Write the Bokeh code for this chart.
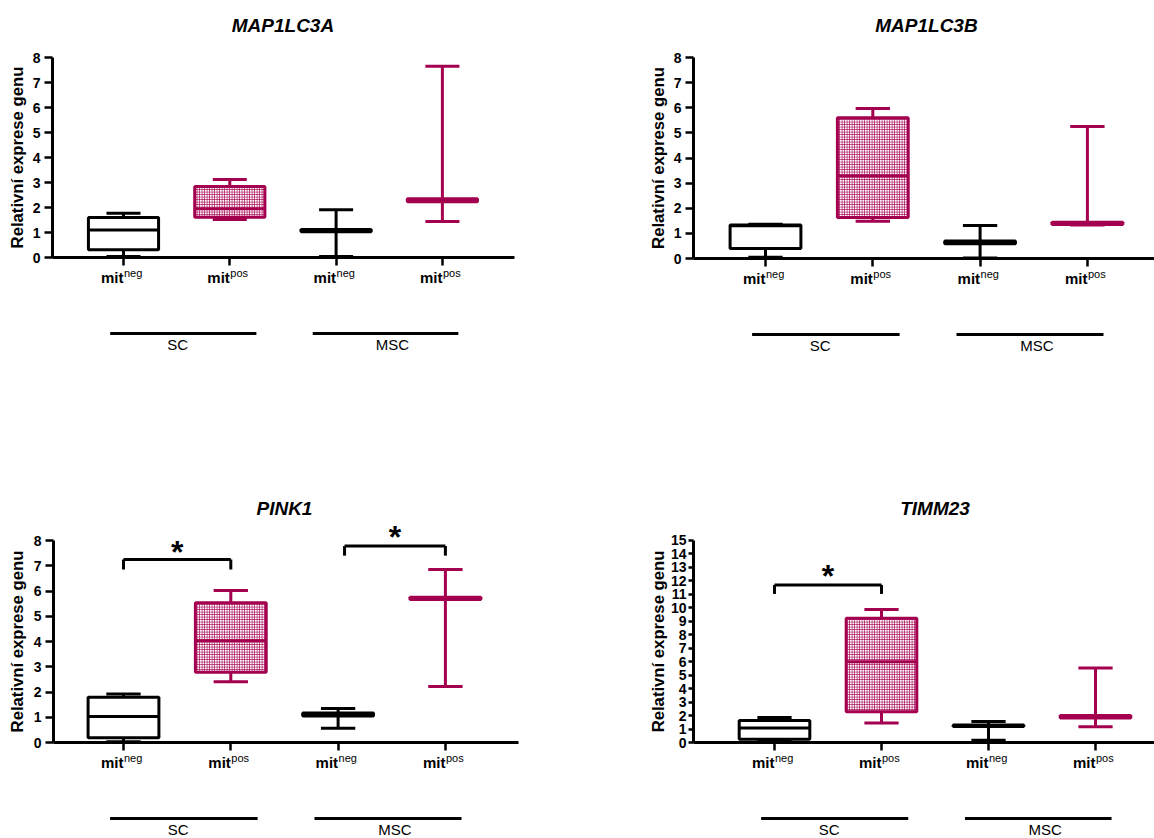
import math
from bokeh.plotting import figure
from bokeh.models import Range1d, FixedTicker, ColumnDataSource
from bokeh.layouts import row, column
from bokeh.embed import file_html
from bokeh.resources import INLINE
from bokeh.core.properties import value

# ---------------- data ----------------
categories = ["SC mit-neg", "SC mit-pos", "MSC mit-neg", "MSC mit-pos"]
cat_base = ["mit", "mit", "mit", "mit"]
cat_sup = ["neg", "pos", "neg", "pos"]
groups = ["SC", "MSC"]
y_label = "Relativní exprese genu"
titles = ["MAP1LC3A", "MAP1LC3B", "PINK1", "TIMM23"]

map1lc3a_min = [0.04, 1.52, 0.04, 1.44]
map1lc3a_q1 = [0.31, 1.61, 1.03, 2.23]
map1lc3a_med = [1.10, 1.95, 1.07, 2.30]
map1lc3a_q3 = [1.60, 2.84, 1.12, 2.35]
map1lc3a_max = [1.77, 3.12, 1.91, 7.65]

map1lc3b_min = [0.05, 1.48, 0.02, 1.33]
map1lc3b_q1 = [0.40, 1.63, 0.59, 1.35]
map1lc3b_med = [1.30, 3.28, 0.65, 1.40]
map1lc3b_q3 = [1.33, 5.60, 0.70, 1.44]
map1lc3b_max = [1.36, 5.97, 1.31, 5.25]

pink1_min = [0.03, 2.41, 0.56, 2.22]
pink1_q1 = [0.19, 2.78, 1.05, 5.66]
pink1_med = [1.03, 4.03, 1.10, 5.70]
pink1_q3 = [1.79, 5.53, 1.17, 5.75]
pink1_max = [1.92, 6.02, 1.35, 6.85]

timm23_min = [0.12, 1.44, 0.17, 1.17]
timm23_q1 = [0.25, 2.28, 1.18, 1.82]
timm23_med = [1.07, 6.00, 1.24, 1.90]
timm23_q3 = [1.64, 9.22, 1.30, 2.00]
timm23_max = [1.86, 9.87, 1.56, 5.53]

# significance brackets: (from category, to category, bracket level, leg bottom, star level)
pink1_sig_from = [1, 3.06]
pink1_sig_to = [2, 4]
pink1_sig_y = [7.25, 7.78]
pink1_sig_leg = [6.85, 7.40]
pink1_sig_star = [7.74, 8.30]

timm23_sig_from = [1]
timm23_sig_to = [2]
timm23_sig_y = [11.7]
timm23_sig_leg = [11.03]
timm23_sig_star = [12.7]

y_max = [8, 8, 8, 15]

# ---------------- style / layout ----------------
PINK = "#a3004f"
BLACK = "#000000"
FONT = "Liberation Sans"
colors = [BLACK, PINK, BLACK, PINK]
xs = [1, 2, 3, 4]
BOX_W = 0.66
CAP_W = 0.32
LW = 3

# geometry in px (figure-relative): fl = y-axis position, fr = end of x axis
geoms = [
    dict(w=640, h=485, fl=52, fr=514, cat1=123, dx=106.3, zero=257, ppu=25.0, ty=25, lx=17, tick=8, stand=4),
    dict(w=514, h=485, fl=53, fr=514, cat1=125, dx=107.3, zero=258, ppu=25.125, ty=25, lx=18, tick=8, stand=4),
    dict(w=640, h=353, fl=53, fr=518, cat1=123, dx=107.3, zero=257, ppu=25.25, ty=23, lx=17, tick=8, stand=4),
    dict(w=514, h=353, fl=53, fr=514, cat1=134, dx=107.0, zero=257, ppu=13.47, ty=23, lx=18, tick=5, stand=2),
]

group_x0 = [0.875, 2.78]
group_x1 = [2.25, 4.15]
group_label_x = [1.51, 3.53]


def make_panel(title, mins, q1, med, q3, maxs, ymax, g, sig=None):
    w, h = g["w"], g["h"]
    px2x = lambda px: 1 + (px - g["cat1"]) / g["dx"]
    x_start = px2x(0)
    x_end = px2x(w)
    x_axis_at = px2x(g["fl"])
    x_axis_end = px2x(g["fr"])
    y_end = g["zero"] / g["ppu"]
    y_start = -(h - g["zero"]) / g["ppu"]
    p = figure(width=w, height=h, output_backend="svg", toolbar_location=None,
               x_range=Range1d(x_start, x_end), y_range=Range1d(y_start, y_end),
               min_border_left=0, min_border_right=0,
               min_border_top=0, min_border_bottom=0)
    p.outline_line_color = None
    p.grid.visible = False
    p.background_fill_color = "white"
    p.border_fill_color = "white"

    # y axis at the left end of the x axis
    ya = p.yaxis[0]
    ya.fixed_location = x_axis_at
    ya.ticker = FixedTicker(ticks=list(range(0, ymax + 1)))
    ya.bounds = (0, ymax)
    ya.axis_line_width = LW
    ya.major_tick_line_width = 2.5
    ya.major_tick_out = g["tick"]
    ya.major_tick_in = 0
    ya.minor_tick_line_color = None
    ya.major_label_standoff = g["stand"]
    ya.major_label_text_font = FONT
    ya.major_label_text_font_style = "bold"
    ya.major_label_text_font_size = "14px"
    ya.major_label_text_color = BLACK

    # x axis at y = 0
    xa = p.xaxis[0]
    xa.fixed_location = 0
    xa.bounds = (x_axis_at, x_axis_end)
    xa.ticker = FixedTicker(ticks=xs)
    xa.axis_line_width = LW
    xa.major_tick_line_width = 2.5
    xa.major_tick_out = 8
    xa.major_tick_in = 0
    xa.minor_tick_line_color = None
    xa.major_label_overrides = {x: "" for x in xs}

    ppu = g["ppu"]
    src = ColumnDataSource(dict(x=xs, mn=mins, q1=q1, med=med, q3=q3, mx=maxs, c=colors,
                                xl=[x - BOX_W / 2 for x in xs], xr=[x + BOX_W / 2 for x in xs],
                                cl=[x - CAP_W / 2 for x in xs], cr=[x + CAP_W / 2 for x in xs]))
    # whiskers
    p.segment(x0="x", y0="q3", x1="x", y1="mx", source=src, line_color="c", line_width=LW)
    p.segment(x0="x", y0="q1", x1="x", y1="mn", source=src, line_color="c", line_width=LW)
    p.segment(x0="cl", y0="mx", x1="cr", y1="mx", source=src, line_color="c", line_width=LW)
    p.segment(x0="cl", y0="mn", x1="cr", y1="mn", source=src, line_color="c", line_width=LW)
    # boxes
    neg = [0, 2]
    pos = [1, 3]
    p.vbar(x=[xs[i] for i in neg], width=BOX_W, bottom=[q1[i] for i in neg], top=[q3[i] for i in neg],
           fill_color="white", line_color=BLACK, line_width=LW)
    p.vbar(x=[xs[i] for i in pos], width=BOX_W, bottom=[q1[i] for i in pos], top=[q3[i] for i in pos],
           fill_color="white", line_color=PINK, line_width=LW,
           hatch_pattern="cross", hatch_color=PINK, hatch_scale=2.5, hatch_weight=0.8)
    # medians
    p.segment(x0="xl", y0="med", x1="xr", y1="med", source=src, line_color="c", line_width=LW)

    # category labels (mit + superscript)
    p.text(x=xs, y=[-19.5 / ppu] * 4, text=cat_base, text_font=value(FONT), text_font_style="bold",
           text_font_size="15px", text_align="right", text_baseline="middle", text_color=BLACK)
    p.text(x=[x + 0.5 / g["dx"] for x in xs], y=[-15 / ppu] * 4, text=cat_sup, text_font=value(FONT),
           text_font_size="11px", text_align="left", text_baseline="middle", text_color=BLACK)

    # group lines and labels
    p.segment(x0=group_x0, y0=[-76 / ppu] * 2, x1=group_x1, y1=[-76 / ppu] * 2,
              line_color=BLACK, line_width=LW)
    p.text(x=group_label_x, y=[-87 / ppu] * 2, text=groups, text_font=value(FONT),
           text_font_size="15px", text_align="center", text_baseline="middle", text_color=BLACK)

    # title
    p.text(x=[2.5], y=[(g["zero"] - g["ty"]) / ppu], text=[title], text_font=value(FONT),
           text_font_style="bold italic", text_font_size="19px", text_align="center",
           text_baseline="middle", text_color=BLACK)

    # significance brackets
    if sig is not None:
        f, t, yb, yl, ys = sig
        p.segment(x0=f, y0=yb, x1=t, y1=yb, line_color=BLACK, line_width=LW)
        p.segment(x0=f, y0=yl, x1=f, y1=yb, line_color=BLACK, line_width=LW)
        p.segment(x0=t, y0=yl, x1=t, y1=yb, line_color=BLACK, line_width=LW)
        p.text(x=[(a + b) / 2 for a, b in zip(f, t)], y=[v - 4.5 / ppu for v in ys], text=["*"] * len(f),
               text_font=value(FONT), text_font_style="bold", text_font_size="32px",
               text_align="center", text_baseline="middle", text_color=BLACK)

    # y axis title
    p.text(x=[px2x(g["lx"])], y=[ymax / 2], text=[y_label], angle=math.pi / 2,
           text_font=value(FONT), text_font_style="bold", text_font_size="16.7px",
           text_align="center", text_baseline="middle", text_color=BLACK)
    return p


p1 = make_panel(titles[0], map1lc3a_min, map1lc3a_q1, map1lc3a_med, map1lc3a_q3, map1lc3a_max,
                y_max[0], geoms[0])
p2 = make_panel(titles[1], map1lc3b_min, map1lc3b_q1, map1lc3b_med, map1lc3b_q3, map1lc3b_max,
                y_max[1], geoms[1])
p3 = make_panel(titles[2], pink1_min, pink1_q1, pink1_med, pink1_q3, pink1_max, y_max[2], geoms[2],
                sig=(pink1_sig_from, pink1_sig_to, pink1_sig_y, pink1_sig_leg, pink1_sig_star))
p4 = make_panel(titles[3], timm23_min, timm23_q1, timm23_med, timm23_q3, timm23_max, y_max[3], geoms[3],
                sig=(timm23_sig_from, timm23_sig_to, timm23_sig_y, timm23_sig_leg, timm23_sig_star))

layout = column(row(p1, p2), row(p3, p4))
open("out.html", "w").write(file_html(layout, INLINE))
